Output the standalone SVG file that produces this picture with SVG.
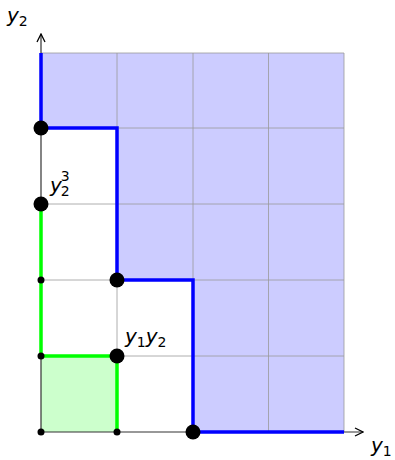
<svg xmlns="http://www.w3.org/2000/svg" width="395" height="460" viewBox="0 0 395 460">
<defs>
<marker id="arr" viewBox="0 0 10 10" refX="9" refY="5" markerWidth="10" markerHeight="10" markerUnits="userSpaceOnUse" orient="auto">
<path d="M1,1 L9,5 L1,9" fill="none" stroke="#000" stroke-width="1.3"/>
</marker>
</defs>
<style>
.grid{stroke:#999;stroke-width:0.8;fill:none}
.blue{stroke:#0000ff;stroke-width:3.5;fill:none}
.green{stroke:#00ff00;stroke-width:3.5;fill:none}
.axis{stroke:#333;stroke-width:1.2;fill:none}
.big{fill:#000}
.lbl{font-family:"DejaVu Sans",sans-serif;font-size:20px;fill:#000}
.it{font-style:italic}
.sub{font-size:14px}
</style>
<rect width="395" height="460" fill="#fff"/>
<g id="regions">
<polygon points="41,53 344,53 344,432 193,432 193,280 117,280 117,128 41,128" fill="#ccccff"/>
<rect x="41" y="356" width="76" height="76" fill="#ccffcc"/>
</g>
<g id="grid" class="grid">
<path d="M117,53V432M193,53V432M268.5,53V432M344,53V432M41,53H344M41,128H344M41,204H344M41,280H344M41,356H344"/>
</g>
<g id="connectors">
<line class="axis" x1="41" y1="432" x2="41" y2="34" marker-end="url(#arr)"/>
<line class="axis" x1="41" y1="432" x2="363" y2="432" marker-end="url(#arr)"/>
<polyline class="green" points="41,204 41,356 117,356 117,432"/>
<polyline class="blue" points="41,53 41,128 117,128 117,280 193,280 193,432 344,432"/>
</g>
<g id="points">
<circle class="big" cx="41" cy="128" r="7.5"/>
<circle class="big" cx="41" cy="204" r="7.5"/>
<circle class="big" cx="117" cy="280" r="7.5"/>
<circle class="big" cx="117" cy="356" r="7.5"/>
<circle class="big" cx="193" cy="432" r="7.5"/>
<circle class="big" cx="41" cy="280" r="3.5"/>
<circle class="big" cx="41" cy="356" r="3.5"/>
<circle class="big" cx="41" cy="432" r="3.5"/>
<circle class="big" cx="117" cy="432" r="3.5"/>
</g>
<g id="labels">
<text class="lbl" x="7" y="22"><tspan class="it">y</tspan><tspan class="sub" dy="4">2</tspan></text>
<text class="lbl" x="50" y="192"><tspan class="it">y</tspan><tspan class="sub" dx="-1" dy="4">2</tspan><tspan class="sub" dx="-9" dy="-15">3</tspan></text>
<text class="lbl" x="125" y="343"><tspan class="it">y</tspan><tspan class="sub" dy="4">1</tspan><tspan class="it" dy="-4">y</tspan><tspan class="sub" dy="4">2</tspan></text>
<text class="lbl" x="371" y="452"><tspan class="it">y</tspan><tspan class="sub" dy="4">1</tspan></text>
</g>
</svg>
